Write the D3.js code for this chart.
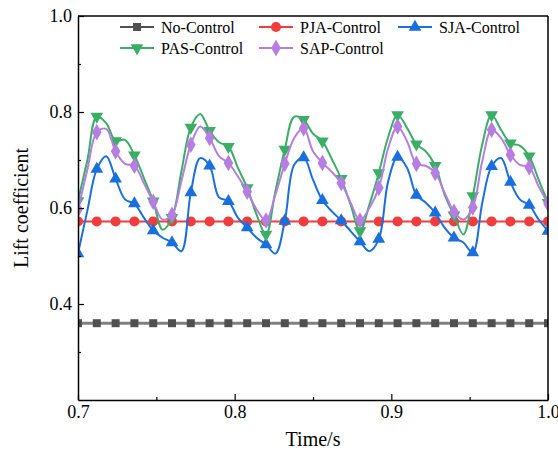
<!DOCTYPE html>
<html><head><meta charset="utf-8">
<script src="https://cdn.jsdelivr.net/npm/d3@7"></script>
<style>body{margin:0;background:#fff}svg{display:block}text{font-family:"Liberation Serif","Times New Roman",serif}</style>
</head><body><svg id="c" width="558" height="457"></svg>
<script>
// ---- data ----
const seriesNames = ["No-Control","PJA-Control","SJA-Control","PAS-Control","SAP-Control"];
const tStart = 0.7, markerStep = 0.012, fineStep = 0.006;
const noControl = [0.36,0.36,0.36,0.36,0.36,0.36,0.36,0.36,0.36,0.36,0.36,0.36,0.36,0.36,0.36,0.36,0.36,0.36,0.36,0.36,0.36,0.36,0.36,0.36,0.36,0.36];
const pjaControl = [0.572,0.572,0.572,0.572,0.572,0.572,0.572,0.572,0.572,0.572,0.572,0.572,0.572,0.572,0.572,0.572,0.572,0.572,0.572,0.572,0.572,0.572,0.572,0.572,0.572,0.572];
const sjaControl = [0.505,0.595,0.681,0.708,0.661,0.618,0.609,0.580,0.553,0.538,0.528,0.510,0.632,0.704,0.688,0.622,0.614,0.580,0.559,0.538,0.524,0.505,0.573,0.690,0.705,0.659,0.616,0.593,0.574,0.552,0.530,0.510,0.535,0.656,0.706,0.684,0.627,0.611,0.590,0.559,0.538,0.528,0.507,0.610,0.687,0.704,0.654,0.618,0.606,0.576,0.552];
const pasControl = [0.615,0.700,0.791,0.777,0.740,0.742,0.710,0.663,0.614,0.555,0.580,0.676,0.768,0.796,0.761,0.737,0.728,0.684,0.642,0.586,0.545,0.635,0.722,0.790,0.784,0.755,0.739,0.702,0.661,0.607,0.552,0.607,0.673,0.748,0.794,0.767,0.733,0.718,0.688,0.628,0.585,0.545,0.625,0.732,0.794,0.763,0.735,0.730,0.708,0.659,0.611];
const sapControl = [0.597,0.680,0.758,0.765,0.718,0.692,0.688,0.652,0.613,0.576,0.586,0.656,0.732,0.770,0.746,0.708,0.694,0.666,0.634,0.597,0.574,0.628,0.692,0.746,0.766,0.718,0.694,0.675,0.652,0.611,0.574,0.600,0.642,0.725,0.770,0.739,0.692,0.688,0.673,0.632,0.592,0.576,0.601,0.697,0.763,0.746,0.711,0.690,0.685,0.645,0.609];
const xTicks = [0.7,0.8,0.9,1.0];
const yTicks = [0.4,0.6,0.8,1.0];
const xDomain = [0.7,1.0], yDomain = [0.2,1.0];

// ---- layout ----
const L=78, R=548, T=16, B=400;
const svg = d3.select("#c");
const x = d3.scaleLinear().domain(xDomain).range([L,R]);
const y = d3.scaleLinear().domain(yDomain).range([B,T]);

svg.append("defs").append("clipPath").attr("id","clip").append("rect")
  .attr("x",L).attr("y",T).attr("width",R-L).attr("height",B-T);

const colors = {"No-Control":"#505050","PJA-Control":"#f03c3c","SJA-Control":"#1a6fdf","PAS-Control":"#3aae64","SAP-Control":"#b67ee0"};
const lineColors = {"No-Control":"#808080","PJA-Control":"#f03c3c","SJA-Control":"#1a6fdf","PAS-Control":"#3aae64","SAP-Control":"#b67ee0"};
const symbols = {"No-Control":[d3.symbolSquare,64,0],"PJA-Control":[d3.symbolCircle,80,0],"SJA-Control":[d3.symbolTriangle,70,0],"PAS-Control":[d3.symbolTriangle,70,180],"SAP-Control":[d3.symbolDiamond,80,0]};

function toPts(arr, step){ return arr.map((v,i)=>({t:tStart+i*step, v:v})); }
const series = [
  {name:"No-Control", pts:toPts(noControl,markerStep), every:1, curve:d3.curveLinear},
  {name:"PJA-Control", pts:toPts(pjaControl,markerStep), every:1, curve:d3.curveLinear},
  {name:"SJA-Control", pts:toPts(sjaControl,fineStep), every:2, curve:d3.curveCatmullRom.alpha(0.5)},
  {name:"PAS-Control", pts:toPts(pasControl,fineStep), every:2, curve:d3.curveCatmullRom.alpha(0.5)},
  {name:"SAP-Control", pts:toPts(sapControl,fineStep), every:2, curve:d3.curveCatmullRom.alpha(0.5)}
];

const plot = svg.append("g").attr("clip-path","url(#clip)");
series.forEach(s=>{
  const line = d3.line().x(d=>x(d.t)).y(d=>y(d.v)).curve(s.curve);
  plot.append("path").datum(s.pts).attr("d",line).attr("fill","none")
    .attr("stroke",lineColors[s.name]).attr("stroke-width",s.name==="No-Control"?3:2);
  const [sym,size,rot] = symbols[s.name];
  plot.selectAll(null).data(s.pts.filter((d,i)=>i%s.every===0)).join("path")
    .attr("d",d3.symbol(sym,size))
    .attr("transform",d=>`translate(${x(d.t)},${y(d.v)}) rotate(${rot})`)
    .attr("fill",colors[s.name]);
});

// ---- axes ----
const fs = 18;
// x axis
const xAxis = svg.append("g").attr("transform",`translate(0,${B})`)
  .call(d3.axisBottom(x).tickValues(xTicks).tickFormat(d3.format(".1f")).tickSizeInner(-6).tickSizeOuter(0).tickPadding(5));
xAxis.selectAll("text").attr("font-size",fs).attr("fill","#000").attr("font-family","Liberation Serif");
const xMinor = svg.append("g").attr("transform",`translate(0,${B})`)
  .call(d3.axisBottom(x).tickValues([0.75,0.85,0.95]).tickFormat("").tickSizeInner(-3).tickSizeOuter(0));
xMinor.select(".domain").remove();
// y axis
const yAxis = svg.append("g").attr("transform",`translate(${L},0)`)
  .call(d3.axisLeft(y).tickValues(yTicks).tickFormat(d3.format(".1f")).tickSizeInner(-6).tickSizeOuter(0).tickPadding(6));
yAxis.selectAll("text").attr("font-size",fs).attr("fill","#000").attr("font-family","Liberation Serif");
const yMinor = svg.append("g").attr("transform",`translate(${L},0)`)
  .call(d3.axisLeft(y).tickValues([0.3,0.5,0.7,0.9]).tickFormat("").tickSizeInner(-3).tickSizeOuter(0));
yMinor.select(".domain").remove();
svg.selectAll(".tick line").attr("stroke","#000").attr("stroke-width",1.2);
svg.selectAll(".domain").attr("stroke","#000").attr("stroke-width",1.5);
// frame top and right
svg.append("line").attr("x1",L).attr("x2",R).attr("y1",T).attr("y2",T).attr("stroke","#000").attr("stroke-width",1.5);
svg.append("line").attr("x1",R).attr("x2",R).attr("y1",T).attr("y2",B).attr("stroke","#000").attr("stroke-width",1.5);

// titles
svg.append("text").attr("x",(L+R)/2).attr("y",446).attr("text-anchor","middle").attr("font-size",20).text("Time/s");
svg.append("text").attr("transform",`translate(28,${(T+B)/2}) rotate(-90)`).attr("text-anchor","middle").attr("font-size",20).text("Lift coefficient");

// ---- legend ----
const legendPos = [
  {name:"No-Control", x1:120, y:27},
  {name:"PJA-Control", x1:259, y:27},
  {name:"SJA-Control", x1:398, y:27},
  {name:"PAS-Control", x1:120, y:48},
  {name:"SAP-Control", x1:259, y:48}
];
legendPos.forEach(p=>{
  const g = svg.append("g");
  g.append("line").attr("x1",p.x1).attr("x2",p.x1+34).attr("y1",p.y).attr("y2",p.y)
    .attr("stroke",lineColors[p.name]==="#808080"?"#505050":lineColors[p.name]).attr("stroke-width",2);
  const [sym,size,rot] = symbols[p.name];
  g.append("path").attr("d",d3.symbol(sym,size)).attr("transform",`translate(${p.x1+17},${p.y}) rotate(${rot})`).attr("fill",colors[p.name]);
  g.append("text").attr("x",p.x1+41).attr("y",p.y+5.5).attr("font-size",16).text(p.name);
});
</script></body></html>
